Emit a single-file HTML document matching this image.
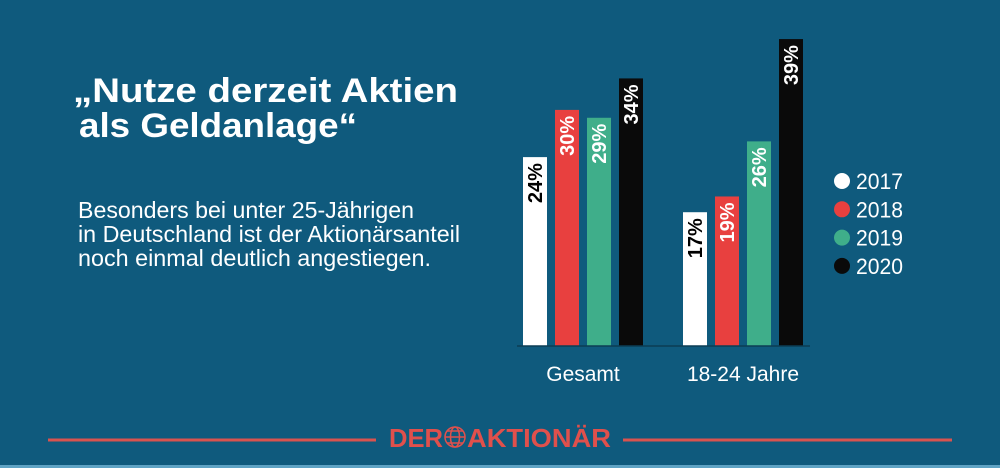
<!DOCTYPE html>
<html><head><meta charset="utf-8"><style>
html,body{margin:0;padding:0;background:#0f5a7d;}
svg{display:block;font-family:"Liberation Sans",Arial,sans-serif;}
</style></head><body>
<svg width="1000" height="468" viewBox="0 0 1000 468">
<rect width="1000" height="468" fill="#0f5a7d"/>
<rect y="465" width="1000" height="3" fill="#5fa3c4"/>
<g fill="#fff" font-weight="bold" font-size="34">
<text x="73" y="102" textLength="385" lengthAdjust="spacingAndGlyphs">„Nutze derzeit Aktien</text>
<text x="79" y="137" textLength="278" lengthAdjust="spacingAndGlyphs">als Geldanlage“</text>
</g>
<g fill="#fff" font-size="23">
<text x="78" y="218" textLength="336" lengthAdjust="spacingAndGlyphs">Besonders bei unter 25-Jährigen</text>
<text x="78" y="242" textLength="382" lengthAdjust="spacingAndGlyphs">in Deutschland ist der Aktionärsanteil</text>
<text x="78" y="266" textLength="353" lengthAdjust="spacingAndGlyphs">noch einmal deutlich angestiegen.</text>
</g>
<g id="chart"></g>
<g id="legend"></g>
<g>
<line x1="48" y1="440" x2="376" y2="440" stroke="#d9534f" stroke-width="3"/>
<line x1="623" y1="440" x2="952" y2="440" stroke="#d9534f" stroke-width="3"/>
<text x="389" y="447" font-size="26" font-weight="bold" fill="#e0504c" textLength="54" lengthAdjust="spacingAndGlyphs">DER</text>
<g stroke="#e0504c" fill="none" stroke-width="1.5">
<circle cx="455" cy="437" r="10"/><ellipse cx="455" cy="437" rx="4.5" ry="10"/><line x1="445" y1="437" x2="465" y2="437"/><line x1="447" y1="431" x2="463" y2="431"/><line x1="447" y1="443" x2="463" y2="443"/>
</g>
<text x="467" y="447" font-size="26" font-weight="bold" fill="#e0504c" textLength="144" lengthAdjust="spacingAndGlyphs">AKTIONÄR</text>
</g>
</svg>
<script>
const categories = ["Gesamt", "18-24 Jahre"];
const years = ["2017", "2018", "2019", "2020"];
const values2017 = [24, 17];
const values2018 = [30, 19];
const values2019 = [29, 26];
const values2020 = [34, 39];
const colors = ["#ffffff", "#e8403f", "#3fae8a", "#0a0a0a"];
const labelColors = ["#000000", "#ffffff", "#ffffff", "#ffffff"];
const series = [values2017, values2018, values2019, values2020];
const NS = "http://www.w3.org/2000/svg";
const baseY = 346, pxPerPct = 7.87;
const groupX = [523, 683], barStep = 32, barW = 24;
function yScale(v){ return baseY - v * pxPerPct; }
function xScale(g, s){ return groupX[g] + s * barStep; }
const chart = document.getElementById('chart');
function mk(tag, attrs){ const e = document.createElementNS(NS, tag); for (const k in attrs) e.setAttribute(k, attrs[k]); return e; }
categories.forEach((cat, g) => {
  series.forEach((vals, s) => {
    const v = vals[g];
    const x = xScale(g, s), y = yScale(v);
    const r = mk('rect', {x: x, y: y, width: barW, height: baseY - y, fill: colors[s]});
    
    
    chart.appendChild(r);
    const cx = x + barW / 2 + 7, ty = y + 6;
    const t = mk('text', {x: cx, y: ty, fill: labelColors[s], 'font-size': 20, 'font-weight': 'bold', 'text-anchor': 'end', transform: 'rotate(-90 ' + cx + ' ' + ty + ')'});
    t.textContent = v + '%';
    
    
    chart.appendChild(t);
  });
  const lx = xScale(g, 0) + (3 * barStep + barW) / 2;
  const lt = mk('text', {x: lx, y: 381, fill: '#fff', 'font-size': 21, 'text-anchor': 'middle'});
  lt.textContent = cat;
  
  
  chart.appendChild(lt);
});
const axis = mk('line', {x1: 517, y1: baseY, x2: 810, y2: baseY, stroke: '#0b3d55', 'stroke-width': 1.5});


chart.appendChild(axis);
const legend = document.getElementById('legend');
years.forEach((yr, i) => {
  const cy = 181 + i * 28.3;
  const c = mk('circle', {cx: 842, cy: cy, r: 8, fill: colors[i]});
  
  
  legend.appendChild(c);
  const t = mk('text', {x: 856, y: cy + 8, fill: '#fff', 'font-size': 22, textLength: 47, lengthAdjust: 'spacingAndGlyphs'});
  t.textContent = yr;
  
  
  legend.appendChild(t);
});
</script>
</body></html>
